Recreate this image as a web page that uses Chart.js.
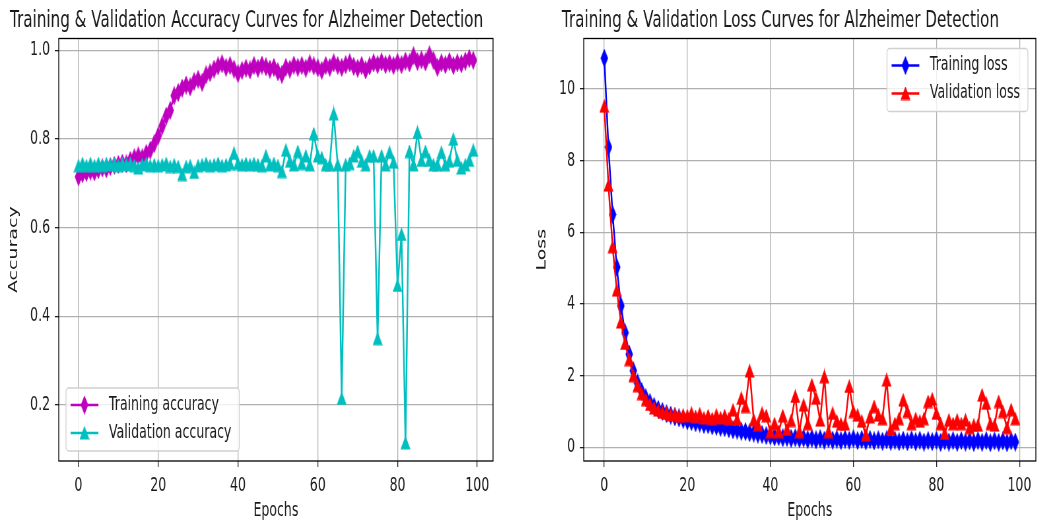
<!DOCTYPE html>
<html>
<head>
<meta charset="utf-8">
<script src="https://cdn.jsdelivr.net/npm/chart.js@4.4.0/dist/chart.umd.min.js"></script>
<style>
html,body{margin:0;padding:0;background:#fff;}
#page{position:relative;width:1049px;height:524px;overflow:hidden;background:#fff;}
.panel{position:absolute;top:0;width:794px;height:524px;transform:scaleX(0.66);transform-origin:0 0;}
</style>
</head>
<body>
<div id="page">
 <div class="panel" style="left:0"><canvas id="accChart" width="794" height="524"></canvas></div>
 <div class="panel" style="left:525px"><canvas id="lossChart" width="794" height="524"></canvas></div>
</div>
<script>
// values, one per epoch (0..99)
const trainAcc = [
 0.715,0.722,0.725,0.728,0.726,0.731,0.735,0.733,0.738,0.741,
 0.743,0.746,0.744,0.752,0.758,0.762,0.758,0.768,0.775,0.790,
 0.808,0.830,0.852,0.865,0.898,0.905,0.915,0.922,0.918,0.930,
 0.935,0.928,0.945,0.950,0.958,0.965,0.970,0.962,0.966,0.958,
 0.948,0.955,0.960,0.956,0.966,0.960,0.967,0.963,0.958,0.962,
 0.952,0.946,0.962,0.958,0.967,0.962,0.966,0.960,0.970,0.965,
 0.961,0.955,0.966,0.962,0.972,0.966,0.962,0.968,0.972,0.964,
 0.960,0.966,0.956,0.965,0.972,0.968,0.974,0.968,0.971,0.966,
 0.973,0.968,0.976,0.972,0.988,0.975,0.979,0.974,0.990,0.978,
 0.962,0.972,0.968,0.975,0.966,0.972,0.970,0.976,0.982,0.978
];
const valAcc = [
 0.740,0.745,0.740,0.745,0.740,0.745,0.740,0.745,0.742,0.745,
 0.740,0.745,0.742,0.745,0.740,0.735,0.742,0.745,0.740,0.742,
 0.740,0.742,0.745,0.738,0.742,0.738,0.720,0.738,0.740,0.725,
 0.740,0.742,0.745,0.740,0.742,0.745,0.740,0.742,0.745,0.768,
 0.745,0.742,0.745,0.742,0.745,0.742,0.740,0.762,0.742,0.745,
 0.740,0.727,0.775,0.750,0.742,0.772,0.745,0.762,0.742,0.812,
 0.762,0.758,0.742,0.742,0.857,0.742,0.215,0.742,0.745,0.762,
 0.772,0.750,0.742,0.762,0.762,0.350,0.762,0.742,0.770,0.748,
 0.470,0.585,0.115,0.772,0.742,0.815,0.752,0.772,0.752,0.742,
 0.742,0.770,0.742,0.750,0.800,0.752,0.735,0.742,0.752,0.775
];
const trainLoss = [
 10.86,8.38,6.50,5.03,3.95,3.20,2.60,2.14,1.80,1.56,
 1.38,1.25,1.14,1.06,1.00,0.94,0.90,0.85,0.82,0.78,
 0.74,0.72,0.69,0.68,0.64,0.63,0.60,0.59,0.56,0.55,
 0.52,0.49,0.48,0.45,0.44,0.41,0.40,0.37,0.36,0.33,
 0.32,0.29,0.30,0.27,0.28,0.25,0.27,0.24,0.26,0.22,
 0.25,0.21,0.24,0.20,0.24,0.20,0.23,0.19,0.23,0.20,
 0.24,0.19,0.22,0.18,0.22,0.18,0.21,0.17,0.21,0.17,
 0.20,0.16,0.20,0.16,0.21,0.16,0.20,0.15,0.19,0.16,
 0.20,0.14,0.19,0.15,0.19,0.14,0.19,0.15,0.18,0.14,
 0.19,0.14,0.19,0.13,0.18,0.14,0.18,0.13,0.18,0.15
];
const valLoss = [
 9.52,7.32,5.60,4.39,3.50,2.90,2.45,2.00,1.72,1.50,
 1.33,1.20,1.10,1.04,0.98,0.95,0.91,0.93,0.87,0.90,
 0.88,0.95,0.86,0.93,0.82,0.88,0.80,0.90,0.82,0.88,
 0.80,1.04,0.78,1.37,1.14,2.13,0.76,0.63,0.95,0.88,
 0.44,0.66,0.44,0.88,0.50,0.75,1.42,0.44,1.18,0.66,
 1.74,1.37,0.76,1.97,0.44,0.95,0.73,0.65,0.65,1.70,
 1.00,0.90,0.73,0.35,0.85,1.14,0.90,0.80,1.88,0.50,
 0.66,0.80,1.32,1.00,0.66,0.80,0.73,0.80,1.28,1.35,
 0.95,0.66,0.39,0.76,0.66,0.76,0.66,0.76,0.55,0.62,
 0.62,1.46,1.23,0.66,0.62,1.28,1.00,0.55,1.05,0.80
];
const epochTicks = [0,20,40,60,80,100];
const accTicks = [0.2,0.4,0.6,0.8,1.0];
const lossTicks = [0,2,4,6,8,10];

const FONT = 'DejaVu Sans';
const TEXT = '#1a1a1a';

function marker(shape, color){
 const c = document.createElement('canvas');
 const w = shape==='tri' ? 15 : 12;
 const h = shape==='tri' ? 14 : 19;
 c.width = w; c.height = h;
 const g = c.getContext('2d');
 g.fillStyle = color; g.strokeStyle = color; g.lineWidth = 1.2;
 g.beginPath();
 if(shape==='tri'){ g.moveTo(w/2,1); g.lineTo(w-1,h-1); g.lineTo(1,h-1); }
 else { g.moveTo(w/2,1); g.lineTo(w-1,h/2); g.lineTo(w/2,h-1); g.lineTo(1,h/2); }
 g.closePath(); g.fill(); g.stroke();
 return c;
}

function pts(arr){ return arr.map((v,i)=>({x:i,y:v})); }

function series(label, arr, color, shape, order){
 return {
  label, data: pts(arr), borderColor: color, backgroundColor: color,
  borderWidth: 2.5, tension: 0, pointStyle: marker(shape, color),
  pointRadius: 6, order
 };
}

const framePlugin = {
 id: 'frame',
 afterDatasetsDraw(chart){
  const {ctx, chartArea: a} = chart;
  ctx.save();
  ctx.strokeStyle = '#000'; ctx.lineWidth = 1.3;
  ctx.strokeRect(a.left, a.top, a.right - a.left, a.bottom - a.top);
  ctx.restore();
 },
 afterDraw(chart, args, opts){
  const {ctx, chartArea: a} = chart;
  const items = chart.data.datasets.slice().sort((p,q)=>q.order-p.order);
  ctx.save();
  ctx.font = '19px "' + FONT + '"';
  const tw = Math.max(...items.map(d => ctx.measureText(d.label).width));
  const w = 7 + 42 + 16 + tw + 12, h = 63;
  const x = opts.corner === 'll' ? a.left + 11 : a.right - 12 - w;
  const y = opts.corner === 'll' ? a.bottom - 10 - h : a.top + 10;
  const r = 4;
  ctx.beginPath();
  ctx.moveTo(x + r, y); ctx.lineTo(x + w - r, y); ctx.arcTo(x + w, y, x + w, y + r, r);
  ctx.lineTo(x + w, y + h - r); ctx.arcTo(x + w, y + h, x + w - r, y + h, r);
  ctx.lineTo(x + r, y + h); ctx.arcTo(x, y + h, x, y + h - r, r);
  ctx.lineTo(x, y + r); ctx.arcTo(x, y, x + r, y, r);
  ctx.closePath();
  ctx.fillStyle = 'rgba(255,255,255,0.8)'; ctx.fill();
  ctx.strokeStyle = '#d0d0d0'; ctx.lineWidth = 1.3; ctx.stroke();
  items.forEach((d, i) => {
   const cy = y + 17 + i * 28;
   ctx.strokeStyle = d.borderColor; ctx.lineWidth = 2.5;
   ctx.beginPath(); ctx.moveTo(x + 7, cy); ctx.lineTo(x + 49, cy); ctx.stroke();
   const m = d.pointStyle;
   ctx.drawImage(m, x + 28 - m.width / 2, cy - m.height / 2);
   ctx.fillStyle = TEXT; ctx.textBaseline = 'middle'; ctx.textAlign = 'left';
   ctx.fillText(d.label, x + 65, cy);
  });
  ctx.restore();
 }
};

function makeChart(id, cfg){
 return new Chart(document.getElementById(id), {
  type: 'line',
  data: { datasets: cfg.datasets },
  plugins: [framePlugin],
  options: {
   responsive: false, animation: false, devicePixelRatio: 1, events: [],
   layout: { padding: { left: 0, right: cfg.padRight, top: 0, bottom: 0 } },
   plugins: {
    legend: { display: false },
    tooltip: { enabled: false },
    frame: { corner: cfg.corner },
    title: {
     display: true, text: cfg.title, color: TEXT,
     font: { family: FONT, size: 23, weight: 'normal' },
     padding: { top: 7.4, bottom: 3.5 }
    }
   },
   scales: {
    x: {
     type: 'linear', min: -4.95, max: 103.95,
     afterBuildTicks: s => { s.ticks = epochTicks.map(v => ({value: v})); },
     afterFit: s => { s.height = 63; },
     grid: { color: '#b0b0b0', lineWidth: 1.3, tickColor: '#222', tickLength: 6, tickWidth: 1.3 },
     border: { display: false },
     ticks: { color: TEXT, font: { family: FONT, size: 19 }, padding: 7.2, maxRotation: 0, autoSkip: false, callback: v => String(v) },
     title: { display: true, text: 'Epochs', color: TEXT, font: { family: FONT, size: 19 }, padding: { top: 0, bottom: 1.2 } }
    },
    y: {
     type: 'linear', min: cfg.yMin, max: cfg.yMax,
     afterBuildTicks: s => { s.ticks = cfg.yTicks.map(v => ({value: v})); },
     afterFit: s => { s.width = 89; },
     grid: { color: '#b0b0b0', lineWidth: 1.3, tickColor: '#222', tickLength: 6, tickWidth: 1.3 },
     border: { display: false },
     ticks: { color: TEXT, font: { family: FONT, size: 19 }, padding: 7.2, autoSkip: false, callback: cfg.fmt },
     title: { display: true, text: cfg.yTitle, color: TEXT, font: { family: FONT, size: 19 }, padding: { top: cfg.yTitlePad, bottom: 0 } }
    }
   }
  }
 });
}

makeChart('accChart', {
 title: 'Training & Validation Accuracy Curves for Alzheimer Detection',
 yTitle: 'Accuracy', yTitlePad: 9.8,
 yMin: 0.074, yMax: 1.027, yTicks: accTicks, fmt: v => v.toFixed(1),
 padRight: 47, corner: 'll',
 datasets: [
  series('Training accuracy', trainAcc, '#bf00bf', 'dia', 1),
  series('Validation accuracy', valAcc, '#00bfbf', 'tri', 0)
 ]
});

makeChart('lossChart', {
 title: 'Training & Validation Loss Curves for Alzheimer Detection',
 yTitle: 'Loss', yTitlePad: 14.4,
 yMin: -0.38, yMax: 11.41, yTicks: lossTicks, fmt: v => String(v),
 padRight: 20, corner: 'ur',
 datasets: [
  series('Training loss', trainLoss, '#0000ff', 'dia', 1),
  series('Validation loss', valLoss, '#ff0000', 'tri', 0)
 ]
});
</script>
</body>
</html>
